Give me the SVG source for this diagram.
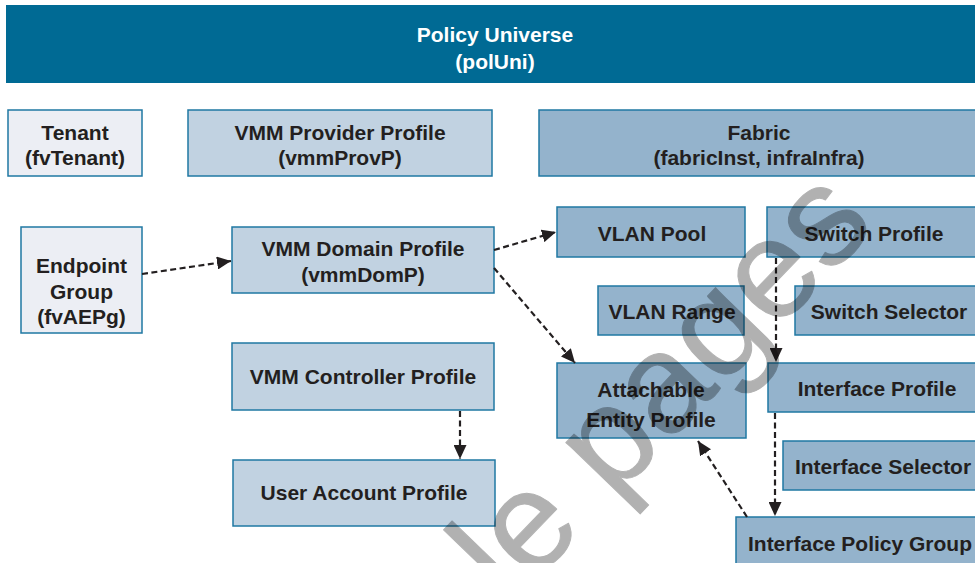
<svg xmlns="http://www.w3.org/2000/svg" width="975" height="563" viewBox="0 0 975 563">
<defs>
<style>
.t{font-family:"Liberation Sans",Arial,Helvetica,sans-serif;font-weight:bold;font-size:21px;fill:#231f20;text-anchor:middle}
.w{fill:#ffffff}
.b{stroke:#1f78a3;stroke-width:1.5}
.l1{fill:#eceef4}
.l2{fill:#c1d2e1}
.l3{fill:#94b3cc}
.c{fill:none;stroke:#231f20;stroke-width:2.2;stroke-dasharray:6 3.5;marker-end:url(#ah)}
.wm{font-family:"Liberation Sans",Arial,sans-serif;font-size:140px;fill:#000;stroke:#000;stroke-width:1;stroke-linejoin:round}
</style>
<marker id="ah" markerUnits="userSpaceOnUse" markerWidth="14" markerHeight="13" refX="14" refY="6.5" orient="auto">
<path d="M0,0 L14,6.5 L0,13 z" fill="#231f20"/>
</marker>
</defs>
<rect width="975" height="563" fill="#ffffff"/>

<g id="polUni">
<rect x="6" y="5" width="975" height="78" fill="#006a94"/>
<text class="t w" x="495" y="42">Policy Universe</text>
<text class="t w" x="495" y="69">(polUni)</text>
</g>

<g id="tenant">
<rect class="b l1" x="8" y="110" width="134" height="66"/>
<text class="t" x="75" y="140">Tenant</text>
<text class="t" x="75" y="165">(fvTenant)</text>
</g>

<g id="vmmProvP">
<rect class="b l2" x="188" y="110" width="304" height="66"/>
<text class="t" x="340" y="140">VMM Provider Profile</text>
<text class="t" x="340" y="165">(vmmProvP)</text>
</g>

<g id="fabric">
<rect class="b l3" x="539" y="110" width="450" height="66"/>
<text class="t" x="759" y="140">Fabric</text>
<text class="t" x="759" y="165">(fabricInst, infraInfra)</text>
</g>

<g id="endpointGroup">
<rect class="b l1" x="21" y="227" width="121" height="106"/>
<text class="t" x="81.5" y="273">Endpoint</text>
<text class="t" x="81.5" y="299">Group</text>
<text class="t" x="81.5" y="324">(fvAEPg)</text>
</g>

<g id="vmmDomP">
<rect class="b l2" x="232" y="227" width="262" height="66"/>
<text class="t" x="363" y="256">VMM Domain Profile</text>
<text class="t" x="363" y="282">(vmmDomP)</text>
</g>

<g id="vmmCtrlrP">
<rect class="b l2" x="232" y="343" width="262" height="67"/>
<text class="t" x="363" y="384">VMM Controller Profile</text>
</g>

<g id="vmmUsrAccP">
<rect class="b l2" x="233" y="460" width="262" height="66"/>
<text class="t" x="364" y="500">User Account Profile</text>
</g>

<g id="vlanPool">
<rect class="b l3" x="557" y="207" width="188" height="50"/>
<text class="t" x="652" y="241">VLAN Pool</text>
</g>

<g id="vlanRange">
<rect class="b l3" x="598" y="286" width="146" height="49"/>
<text class="t" x="672" y="319">VLAN Range</text>
</g>

<g id="aep">
<rect class="b l3" x="557" y="363" width="189" height="75"/>
<text class="t" x="651" y="397">Attachable</text>
<text class="t" x="651" y="427">Entity Profile</text>
</g>

<g id="switchProfile">
<rect class="b l3" x="767" y="207" width="230" height="50"/>
<text class="t" x="874" y="241">Switch Profile</text>
</g>

<g id="switchSelector">
<rect class="b l3" x="795" y="286" width="200" height="49"/>
<text class="t" x="889" y="319">Switch Selector</text>
</g>

<g id="interfaceProfile">
<rect class="b l3" x="768" y="363" width="230" height="49"/>
<text class="t" x="877" y="396">Interface Profile</text>
</g>

<g id="interfaceSelector">
<rect class="b l3" x="783" y="441" width="220" height="49"/>
<text class="t" x="883" y="474">Interface Selector</text>
</g>

<g id="interfacePolicyGroup">
<rect class="b l3" x="736" y="517" width="260" height="60"/>
<text class="t" x="860" y="551">Interface Policy Group</text>
</g>

<g id="connectors">
<path class="c" d="M142,274 L231,261"/>
<path class="c" d="M494,250 L556,232"/>
<path class="c" d="M494,268 L575,363"/>
<path class="c" d="M460,411 L460,459"/>
<path class="c" d="M776,258 L776,362"/>
<path class="c" d="M775,413 L775,516"/>
<path class="c" d="M747,517 L698,441"/>
</g>

<g id="watermark" opacity="0.3">
<text class="wm" transform="translate(256,870) rotate(-46)">Sample pages</text>
</g>
</svg>
